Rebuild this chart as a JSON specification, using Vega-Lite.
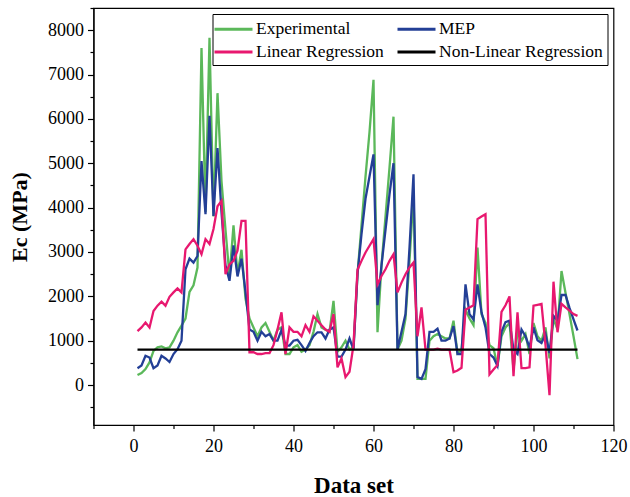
{
  "$schema": "https://vega.github.io/schema/vega-lite/v6.json",
  "width": 520,
  "height": 417,
  "autosize": "none",
  "padding": {"left": 93.5, "top": 8, "right": 16, "bottom": 72},
  "background": "white",
  "config": {"font": "Liberation Serif", "view": {"stroke": "black", "strokeWidth": 1.2}},
  "data": {"values": [
    {"i":1,"Experimental":225,"MEP":380,"Linear Regression":1215,"Non-Linear Regression":800},
    {"i":2,"Experimental":270,"MEP":440,"Linear Regression":1300,"Non-Linear Regression":800},
    {"i":3,"Experimental":360,"MEP":660,"Linear Regression":1410,"Non-Linear Regression":800},
    {"i":4,"Experimental":510,"MEP":620,"Linear Regression":1300,"Non-Linear Regression":800},
    {"i":5,"Experimental":770,"MEP":380,"Linear Regression":1670,"Non-Linear Regression":800},
    {"i":6,"Experimental":850,"MEP":440,"Linear Regression":1790,"Non-Linear Regression":800},
    {"i":7,"Experimental":870,"MEP":660,"Linear Regression":1880,"Non-Linear Regression":800},
    {"i":8,"Experimental":830,"MEP":600,"Linear Regression":1790,"Non-Linear Regression":800},
    {"i":9,"Experimental":850,"MEP":520,"Linear Regression":1990,"Non-Linear Regression":800},
    {"i":10,"Experimental":1000,"MEP":700,"Linear Regression":2090,"Non-Linear Regression":800},
    {"i":11,"Experimental":1190,"MEP":810,"Linear Regression":2180,"Non-Linear Regression":800},
    {"i":12,"Experimental":1340,"MEP":1000,"Linear Regression":2090,"Non-Linear Regression":800},
    {"i":13,"Experimental":1500,"MEP":2610,"Linear Regression":3060,"Non-Linear Regression":800},
    {"i":14,"Experimental":2100,"MEP":2850,"Linear Regression":3180,"Non-Linear Regression":800},
    {"i":15,"Experimental":2250,"MEP":2760,"Linear Regression":3290,"Non-Linear Regression":800},
    {"i":16,"Experimental":2650,"MEP":2910,"Linear Regression":3140,"Non-Linear Regression":800},
    {"i":17,"Experimental":7600,"MEP":5050,"Linear Regression":2950,"Non-Linear Regression":800},
    {"i":18,"Experimental":3900,"MEP":3850,"Linear Regression":3290,"Non-Linear Regression":800},
    {"i":19,"Experimental":7830,"MEP":6070,"Linear Regression":3180,"Non-Linear Regression":800},
    {"i":20,"Experimental":3800,"MEP":3810,"Linear Regression":3520,"Non-Linear Regression":800},
    {"i":21,"Experimental":6580,"MEP":5340,"Linear Regression":4030,"Non-Linear Regression":800},
    {"i":22,"Experimental":4600,"MEP":3900,"Linear Regression":4150,"Non-Linear Regression":800},
    {"i":23,"Experimental":3500,"MEP":2700,"Linear Regression":2500,"Non-Linear Regression":800},
    {"i":24,"Experimental":2450,"MEP":2350,"Linear Regression":2720,"Non-Linear Regression":800},
    {"i":25,"Experimental":3600,"MEP":3150,"Linear Regression":2800,"Non-Linear Regression":800},
    {"i":26,"Experimental":2500,"MEP":2450,"Linear Regression":3030,"Non-Linear Regression":800},
    {"i":27,"Experimental":3050,"MEP":2850,"Linear Regression":3700,"Non-Linear Regression":800},
    {"i":28,"Experimental":1950,"MEP":2100,"Linear Regression":3700,"Non-Linear Regression":800},
    {"i":29,"Experimental":1500,"MEP":1250,"Linear Regression":740,"Non-Linear Regression":800},
    {"i":30,"Experimental":1300,"MEP":1200,"Linear Regression":740,"Non-Linear Regression":800},
    {"i":31,"Experimental":1100,"MEP":1000,"Linear Regression":700,"Non-Linear Regression":800},
    {"i":32,"Experimental":1300,"MEP":1200,"Linear Regression":700,"Non-Linear Regression":800},
    {"i":33,"Experimental":1400,"MEP":1100,"Linear Regression":720,"Non-Linear Regression":800},
    {"i":34,"Experimental":1200,"MEP":1150,"Linear Regression":720,"Non-Linear Regression":800},
    {"i":35,"Experimental":1000,"MEP":1000,"Linear Regression":900,"Non-Linear Regression":800},
    {"i":36,"Experimental":1250,"MEP":1000,"Linear Regression":1250,"Non-Linear Regression":800},
    {"i":37,"Experimental":1300,"MEP":1240,"Linear Regression":1640,"Non-Linear Regression":800},
    {"i":38,"Experimental":700,"MEP":890,"Linear Regression":700,"Non-Linear Regression":800},
    {"i":39,"Experimental":700,"MEP":890,"Linear Regression":1300,"Non-Linear Regression":800},
    {"i":40,"Experimental":850,"MEP":1000,"Linear Regression":1200,"Non-Linear Regression":800},
    {"i":41,"Experimental":900,"MEP":1020,"Linear Regression":1200,"Non-Linear Regression":800},
    {"i":42,"Experimental":750,"MEP":900,"Linear Regression":1100,"Non-Linear Regression":800},
    {"i":43,"Experimental":800,"MEP":770,"Linear Regression":1350,"Non-Linear Regression":800},
    {"i":44,"Experimental":900,"MEP":950,"Linear Regression":1200,"Non-Linear Regression":800},
    {"i":45,"Experimental":1200,"MEP":1100,"Linear Regression":1550,"Non-Linear Regression":800},
    {"i":46,"Experimental":1600,"MEP":1190,"Linear Regression":1450,"Non-Linear Regression":800},
    {"i":47,"Experimental":1300,"MEP":1190,"Linear Regression":1350,"Non-Linear Regression":800},
    {"i":48,"Experimental":1250,"MEP":1050,"Linear Regression":1250,"Non-Linear Regression":800},
    {"i":49,"Experimental":1200,"MEP":1250,"Linear Regression":1200,"Non-Linear Regression":800},
    {"i":50,"Experimental":1900,"MEP":1300,"Linear Regression":1600,"Non-Linear Regression":800},
    {"i":51,"Experimental":750,"MEP":640,"Linear Regression":400,"Non-Linear Regression":800},
    {"i":52,"Experimental":850,"MEP":640,"Linear Regression":600,"Non-Linear Regression":800},
    {"i":53,"Experimental":1000,"MEP":800,"Linear Regression":180,"Non-Linear Regression":800},
    {"i":54,"Experimental":800,"MEP":1050,"Linear Regression":300,"Non-Linear Regression":800},
    {"i":55,"Experimental":850,"MEP":800,"Linear Regression":900,"Non-Linear Regression":800},
    {"i":56,"Experimental":2500,"MEP":2500,"Linear Regression":2600,"Non-Linear Regression":800},
    {"i":57,"Experimental":3600,"MEP":3400,"Linear Regression":2800,"Non-Linear Regression":800},
    {"i":58,"Experimental":4700,"MEP":4200,"Linear Regression":2990,"Non-Linear Regression":800},
    {"i":59,"Experimental":5700,"MEP":4700,"Linear Regression":3140,"Non-Linear Regression":800},
    {"i":60,"Experimental":6880,"MEP":5200,"Linear Regression":3290,"Non-Linear Regression":800},
    {"i":61,"Experimental":1190,"MEP":1800,"Linear Regression":2270,"Non-Linear Regression":800},
    {"i":62,"Experimental":2700,"MEP":2700,"Linear Regression":2460,"Non-Linear Regression":800},
    {"i":63,"Experimental":3800,"MEP":3500,"Linear Regression":2610,"Non-Linear Regression":800},
    {"i":64,"Experimental":4900,"MEP":4300,"Linear Regression":2800,"Non-Linear Regression":800},
    {"i":65,"Experimental":6050,"MEP":5000,"Linear Regression":2950,"Non-Linear Regression":800},
    {"i":66,"Experimental":800,"MEP":800,"Linear Regression":2090,"Non-Linear Regression":800},
    {"i":67,"Experimental":1000,"MEP":1200,"Linear Regression":2310,"Non-Linear Regression":800},
    {"i":68,"Experimental":1500,"MEP":1600,"Linear Regression":2500,"Non-Linear Regression":800},
    {"i":69,"Experimental":2800,"MEP":3100,"Linear Regression":2650,"Non-Linear Regression":800},
    {"i":70,"Experimental":4300,"MEP":4750,"Linear Regression":2760,"Non-Linear Regression":800},
    {"i":71,"Experimental":140,"MEP":180,"Linear Regression":1100,"Non-Linear Regression":800},
    {"i":72,"Experimental":140,"MEP":140,"Linear Regression":1750,"Non-Linear Regression":800},
    {"i":73,"Experimental":140,"MEP":360,"Linear Regression":800,"Non-Linear Regression":800},
    {"i":74,"Experimental":1000,"MEP":1200,"Linear Regression":800,"Non-Linear Regression":800},
    {"i":75,"Experimental":1100,"MEP":1200,"Linear Regression":800,"Non-Linear Regression":800},
    {"i":76,"Experimental":1150,"MEP":1270,"Linear Regression":820,"Non-Linear Regression":800},
    {"i":77,"Experimental":1100,"MEP":1000,"Linear Regression":800,"Non-Linear Regression":800},
    {"i":78,"Experimental":1050,"MEP":1000,"Linear Regression":800,"Non-Linear Regression":800},
    {"i":79,"Experimental":1050,"MEP":1050,"Linear Regression":800,"Non-Linear Regression":800},
    {"i":80,"Experimental":1450,"MEP":1330,"Linear Regression":290,"Non-Linear Regression":800},
    {"i":81,"Experimental":720,"MEP":700,"Linear Regression":330,"Non-Linear Regression":800},
    {"i":82,"Experimental":800,"MEP":700,"Linear Regression":390,"Non-Linear Regression":800},
    {"i":83,"Experimental":1700,"MEP":2270,"Linear Regression":1700,"Non-Linear Regression":800},
    {"i":84,"Experimental":1500,"MEP":1600,"Linear Regression":1750,"Non-Linear Regression":800},
    {"i":85,"Experimental":1350,"MEP":1480,"Linear Regression":1800,"Non-Linear Regression":800},
    {"i":86,"Experimental":3100,"MEP":2270,"Linear Regression":3740,"Non-Linear Regression":800},
    {"i":87,"Experimental":1600,"MEP":1640,"Linear Regression":3800,"Non-Linear Regression":800},
    {"i":88,"Experimental":1400,"MEP":1300,"Linear Regression":3850,"Non-Linear Regression":800},
    {"i":89,"Experimental":900,"MEP":700,"Linear Regression":240,"Non-Linear Regression":800},
    {"i":90,"Experimental":830,"MEP":620,"Linear Regression":350,"Non-Linear Regression":800},
    {"i":91,"Experimental":430,"MEP":430,"Linear Regression":450,"Non-Linear Regression":800},
    {"i":92,"Experimental":1100,"MEP":1200,"Linear Regression":1650,"Non-Linear Regression":800},
    {"i":93,"Experimental":1300,"MEP":1420,"Linear Regression":1800,"Non-Linear Regression":800},
    {"i":94,"Experimental":1400,"MEP":1450,"Linear Regression":2000,"Non-Linear Regression":800},
    {"i":95,"Experimental":350,"MEP":800,"Linear Regression":200,"Non-Linear Regression":800},
    {"i":96,"Experimental":1200,"MEP":700,"Linear Regression":1640,"Non-Linear Regression":800},
    {"i":97,"Experimental":1000,"MEP":1250,"Linear Regression":380,"Non-Linear Regression":800},
    {"i":98,"Experimental":1150,"MEP":1100,"Linear Regression":380,"Non-Linear Regression":800},
    {"i":99,"Experimental":700,"MEP":850,"Linear Regression":400,"Non-Linear Regression":800},
    {"i":100,"Experimental":1400,"MEP":1300,"Linear Regression":1790,"Non-Linear Regression":800},
    {"i":101,"Experimental":1100,"MEP":1010,"Linear Regression":1810,"Non-Linear Regression":800},
    {"i":102,"Experimental":1000,"MEP":950,"Linear Regression":1830,"Non-Linear Regression":800},
    {"i":103,"Experimental":1300,"MEP":1150,"Linear Regression":900,"Non-Linear Regression":800},
    {"i":104,"Experimental":600,"MEP":720,"Linear Regression":-230,"Non-Linear Regression":800},
    {"i":105,"Experimental":1500,"MEP":1560,"Linear Regression":2330,"Non-Linear Regression":800},
    {"i":106,"Experimental":1250,"MEP":1450,"Linear Regression":1190,"Non-Linear Regression":800},
    {"i":107,"Experimental":2570,"MEP":2030,"Linear Regression":1830,"Non-Linear Regression":800},
    {"i":108,"Experimental":2080,"MEP":2030,"Linear Regression":1750,"Non-Linear Regression":800},
    {"i":109,"Experimental":1600,"MEP":1740,"Linear Regression":1680,"Non-Linear Regression":800},
    {"i":110,"Experimental":1100,"MEP":1480,"Linear Regression":1600,"Non-Linear Regression":800},
    {"i":111,"Experimental":585,"MEP":1230,"Linear Regression":1560,"Non-Linear Regression":800}
  ]},
  "transform": [
    {"fold": ["Experimental", "MEP", "Linear Regression", "Non-Linear Regression"], "as": ["series", "Ec"]}
  ],
  "mark": {"type": "line", "strokeWidth": 2.3, "strokeJoin": "miter"},
  "encoding": {
    "x": {
      "field": "i", "type": "quantitative",
      "scale": {"domain": [-10, 120], "nice": false, "zero": false},
      "axis": {
        "values": [-10, 0, 10, 20, 30, 40, 50, 60, 70, 80, 90, 100, 110, 120],
        "labelExpr": "datum.value % 20 === 0 ? datum.label : ''",
        "tickSize": {"condition": {"test": "datum.value % 20 === 0", "value": 6}, "value": 3.5},
        "grid": false, "domainColor": "black", "tickColor": "black", "tickWidth": 1.2, "domainWidth": 1.2,
        "labelFontSize": 18, "labelColor": "black", "labelPadding": 6, "labelOverlap": false, "labelFlush": false,
        "title": "Data set", "titleFontSize": 23, "titleFontWeight": "bold", "titleColor": "black", "titlePadding": 19
      }
    },
    "y": {
      "field": "Ec", "type": "quantitative",
      "scale": {"domain": [-900, 8500], "nice": false, "zero": false},
      "axis": {
        "values": [-500, 0, 500, 1000, 1500, 2000, 2500, 3000, 3500, 4000, 4500, 5000, 5500, 6000, 6500, 7000, 7500, 8000, 8500],
        "format": "d",
        "labelExpr": "datum.value % 1000 === 0 ? datum.label : ''",
        "tickSize": {"condition": {"test": "datum.value % 1000 === 0", "value": 6}, "value": 3.5},
        "grid": false, "domainColor": "black", "tickColor": "black", "tickWidth": 1.2, "domainWidth": 1.2,
        "labelFontSize": 18, "labelColor": "black", "labelPadding": 4, "labelOverlap": false, "labelFlush": false,
        "title": "Ec (MPa)", "titleFontSize": 22, "titleFontWeight": "bold", "titleColor": "black", "titlePadding": 16
      }
    },
    "color": {
      "field": "series", "type": "nominal",
      "scale": {
        "domain": ["Experimental", "Linear Regression", "MEP", "Non-Linear Regression"],
        "range": ["#5BB85A", "#E8186F", "#233F96", "#000000"]
      },
      "legend": {
        "title": null, "orient": "top-right", "offset": 6, "columns": 2,
        "symbolType": "M-2,0H2", "symbolSize": 361, "symbolStrokeWidth": 3, "symbolOffset": 6,
        "labelFontSize": 17.5, "labelColor": "black", "labelLimit": 300, "labelOffset": 11.5,
        "strokeColor": "black", "fillColor": "white", "padding": 4, "columnPadding": 7, "rowPadding": 3
      }
    }
  }
}
